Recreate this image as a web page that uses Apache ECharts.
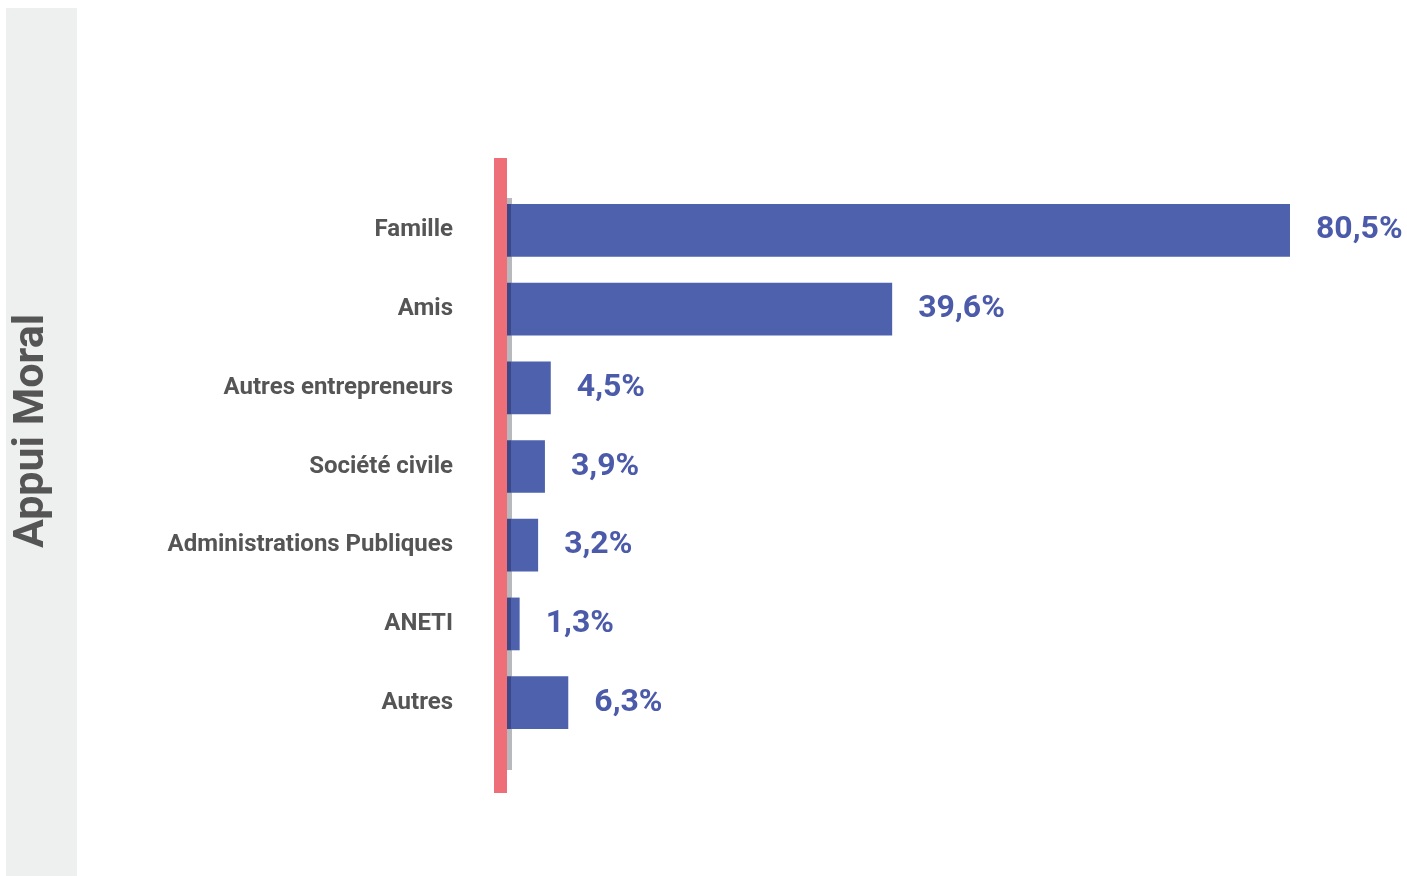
<!DOCTYPE html>
<html>
<head>
<meta charset="utf-8">
<script src="https://cdn.jsdelivr.net/npm/echarts@6/dist/echarts.min.js"></script>
<style>
html,body{margin:0;padding:0;background:#fff;}
#c{width:1407px;height:876px;}
</style>
</head>
<body>
<div id="c"></div>
<script>
const categories = ['Famille','Amis','Autres entrepreneurs','Société civile','Administrations Publiques','ANETI','Autres'];
const values = [80.5, 39.6, 4.5, 3.9, 3.2, 1.3, 6.3];
const panelTitle = 'Appui Moral';

const chart = echarts.init(document.getElementById('c'), null, {renderer:'canvas'});
const fmt = v => String(v.toFixed(1)).replace('.', ',') + '%';

chart.setOption({
  animation:false,
  backgroundColor:'#ffffff',
  graphic:[
    {type:'rect', z:-10, shape:{x:6,y:8,width:71,height:868}, style:{fill:'#eef0ef'}},
    {type:'text', z:10, x:32, y:431, rotation:Math.PI/2,
     style:{text:panelTitle, font:'bold 43px Roboto', fill:'#555555', align:'center', verticalAlign:'middle'}}
  ],
  grid:[
    {left:507, right:24.6, top:191, bottom:134},
    {left:500.5, right:100, top:158, bottom:83, z:5},
    {left:509.5, right:100, top:198, bottom:106, z:1}
  ],
  xAxis:[
    {gridIndex:0, type:'value', min:0, max:90, show:false},
    {gridIndex:1, type:'value', min:0, max:1, show:false},
    {gridIndex:2, type:'value', min:0, max:1, show:false}
  ],
  yAxis:[
    {gridIndex:0, type:'category', data:categories, inverse:true,
     axisLine:{show:false}, axisTick:{show:false}, splitLine:{show:false},
     axisLabel:{margin:54, fontFamily:'Roboto', fontWeight:'bold', fontSize:24, color:'#555555'}},
    {gridIndex:1, type:'value', min:0, max:1, splitLine:{show:false}, axisTick:{show:false}, axisLabel:{show:false},
     axisLine:{show:true, lineStyle:{color:'#ef6f79', width:13, cap:'butt'}}, z:5},
    {gridIndex:2, type:'value', min:0, max:1, splitLine:{show:false}, axisTick:{show:false}, axisLabel:{show:false},
     axisLine:{show:true, lineStyle:{color:'#b8b9bc', width:5, cap:'butt'}}, z:1}
  ],
  series:[
    {type:'bar', xAxisIndex:0, yAxisIndex:0, data:values, barCategoryGap:'33%', z:3,
     itemStyle:{color:{type:'linear', x:507, y:0, x2:511.5, y2:0, global:true,
       colorStops:[{offset:0,color:'#3a4888'},{offset:0.98,color:'#3a4888'},{offset:1,color:'#4e61ad'}]}},
     label:{show:true, position:'right', distance:26, formatter:p=>fmt(p.value),
            fontFamily:'Roboto', fontWeight:'bold', fontSize:32, color:'#4b5aa9'}}
  ]
});
</script>
</body>
</html>
